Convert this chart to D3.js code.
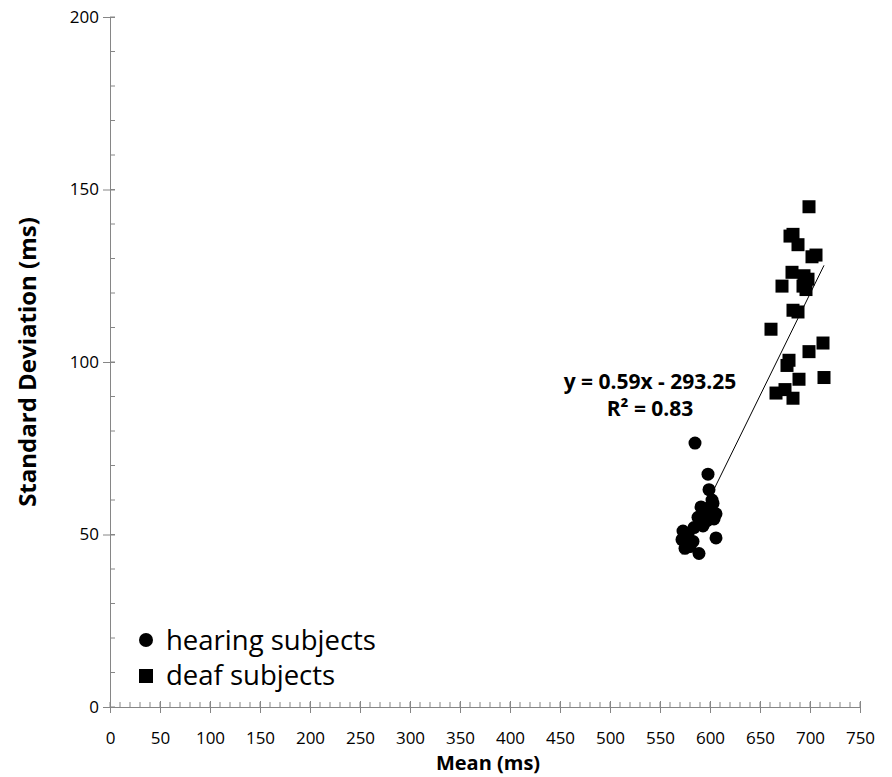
<!DOCTYPE html>
<html>
<head>
<meta charset="utf-8">
<script src="https://cdn.jsdelivr.net/npm/d3@7"></script>
<style>
  body { margin: 0; background: #fff; }
  text { font-family: "Open Sans", "DejaVu Sans", sans-serif; }
</style>
</head>
<body>
<div id="vis"></div>
<script>
// hearing subjects: mean (ms) and standard deviation (ms)
var hearingMean = [585, 598, 599, 603, 600, 591, 596, 606, 601, 588, 597, 604, 592, 584, 606, 573, 578, 572, 576, 583, 589, 580, 575, 595, 602, 593];
var hearingSD   = [76.5, 67.5, 63, 59, 58, 58, 56.5, 56, 55, 55, 54, 54.5, 53, 52, 49, 51, 50, 48.5, 47.5, 48, 44.5, 46.5, 46, 57, 60, 52.5];

// deaf subjects
var deafMean = [699, 680, 683, 688, 702, 706, 672, 694, 698, 682, 696, 683, 688, 661, 713, 699, 679, 677, 714, 689, 666, 675, 683, 693];
var deafSD   = [145, 136.5, 137, 134, 130.5, 131, 122, 125, 124, 126, 121, 115, 114.5, 109.5, 105.5, 103, 100.5, 99, 95.5, 95, 91, 92, 89.5, 122];

var xTicks = [0, 50, 100, 150, 200, 250, 300, 350, 400, 450, 500, 550, 600, 650, 700, 750];
var yTicks = [0, 50, 100, 150, 200];

// trendline y = 0.59x - 293.25
var slope = 0.59, intercept = -293.25;
var trendRange = [572, 714];

const width = 892, height = 777;

var svg = d3.select("#vis").append("svg")
  .attr("width", width)
  .attr("height", height);

var x = d3.scaleLinear().domain([0, 750]).range([110, 860]);
var y = d3.scaleLinear().domain([0, 200]).range([707, 17]);

const axisColor = "#868686";

// minor ticks (inside)
var g = svg.append("g");
d3.range(0, 751, 10).forEach(function(v) {
  g.append("line")
    .attr("x1", x(v)).attr("x2", x(v))
    .attr("y1", y(0)).attr("y2", y(0) - 5)
    .attr("stroke", axisColor);
});
d3.range(0, 201, 10).forEach(function(v) {
  g.append("line")
    .attr("x1", x(0)).attr("x2", x(0) + 5)
    .attr("y1", y(v)).attr("y2", y(v))
    .attr("stroke", axisColor);
});

// major ticks (cross)
var xAxis = svg.append("g")
  .attr("transform", "translate(0," + y(0) + ")")
  .call(d3.axisBottom(x).tickValues(xTicks).tickSize(6).tickSizeOuter(0));
xAxis.selectAll(".tick line").attr("y1", -6);
xAxis.selectAll(".tick text").attr("y", 37).attr("dy", 0);

var yAxis = svg.append("g")
  .attr("transform", "translate(" + x(0) + ",0)")
  .call(d3.axisLeft(y).tickValues(yTicks).tickSize(7).tickSizeOuter(0).tickPadding(4));
yAxis.selectAll(".tick line").attr("x1", 5);
yAxis.selectAll(".tick text").attr("x", -11);

[xAxis, yAxis].forEach(function(a) {
  a.select(".domain").attr("stroke", axisColor);
  a.selectAll(".tick line").attr("stroke", axisColor);
  a.selectAll(".tick text").attr("fill", "#000").style("font-size", "17px")
    .style("font-family", "'Open Sans', sans-serif");
});

// trendline
svg.append("line")
  .attr("x1", x(trendRange[0])).attr("y1", y(slope * trendRange[0] + intercept))
  .attr("x2", x(trendRange[1])).attr("y2", y(slope * trendRange[1] + intercept))
  .attr("stroke", "#000").attr("stroke-width", 1);

// points
svg.append("g").selectAll("circle")
  .data(hearingMean)
  .enter().append("circle")
  .attr("cx", function(d) { return x(d); })
  .attr("cy", function(d, i) { return y(hearingSD[i]); })
  .attr("r", 6.5)
  .attr("fill", "#000");

const sq = 13;
svg.append("g").selectAll("rect")
  .data(deafMean)
  .enter().append("rect")
  .attr("x", function(d) { return x(d) - sq / 2; })
  .attr("y", function(d, i) { return y(deafSD[i]) - sq / 2; })
  .attr("width", sq).attr("height", sq)
  .attr("fill", "#000");

// equation
svg.append("text")
  .attr("x", 650).attr("y", 389)
  .attr("text-anchor", "middle")
  .style("font-size", "21px").style("font-weight", "bold")
  .text("y = 0.59x - 293.25");
svg.append("text")
  .attr("x", 650).attr("y", 416)
  .attr("text-anchor", "middle")
  .style("font-size", "21px").style("font-weight", "bold")
  .text("R² = 0.83");

// legend
var legend = svg.append("g");
legend.append("circle").attr("cx", 146).attr("cy", 640).attr("r", 7).attr("fill", "#000");
legend.append("text").attr("x", 166).attr("y", 650).style("font-size", "27.5px").text("hearing subjects");
legend.append("rect").attr("x", 139).attr("y", 669).attr("width", 14).attr("height", 14).attr("fill", "#000");
legend.append("text").attr("x", 166).attr("y", 685).style("font-size", "27.5px").text("deaf subjects");

// axis titles
svg.append("text")
  .attr("x", 488).attr("y", 770)
  .attr("text-anchor", "middle")
  .style("font-size", "20px").style("font-weight", "bold")
  .text("Mean (ms)");
svg.append("text")
  .attr("transform", "translate(36,362) rotate(-90)")
  .attr("text-anchor", "middle")
  .style("font-size", "24px").style("font-weight", "bold")
  .text("Standard Deviation (ms)");
</script>
</body>
</html>
